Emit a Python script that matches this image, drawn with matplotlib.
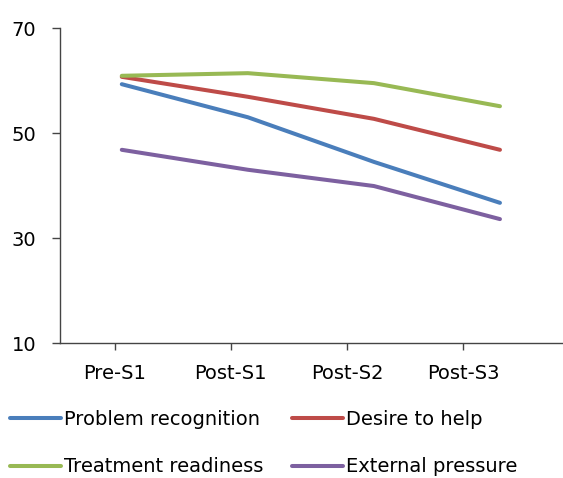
import numpy as np
import matplotlib
matplotlib.use('Agg')
import matplotlib.pyplot as plt

stages = ['Pre-S1', 'Post-S1', 'Post-S2', 'Post-S3']
problem_recognition = [59.3, 53.0, 44.5, 36.7]
desire_to_help = [60.7, 56.9, 52.7, 46.8]
treatment_readiness = [60.9, 61.4, 59.5, 55.1]
external_pressure = [46.8, 43.0, 39.9, 33.6]

series = [
    ('Problem recognition', problem_recognition, '#4A7EBB'),
    ('Desire to help', desire_to_help, '#BE4B48'),
    ('Treatment readiness', treatment_readiness, '#98B954'),
    ('External pressure', external_pressure, '#7D60A0'),
]

plt.rcParams['font.family'] = ['DejaVu Sans']

fig = plt.figure(figsize=(5.63, 4.78), dpi=100)
ax = fig.add_axes([0.1066, 0.2824, 0.8934, 0.659])

x = np.arange(len(stages))
lines = {}
for name, vals, col in series:
    ln, = ax.plot(x, vals, color=col, lw=2.9, solid_capstyle='round')
    lines[name] = ln

ax.set_xlim(-0.49, 3.5)
ax.set_ylim(10, 70)
ax.set_yticks([10, 30, 50, 70])

# category labels sit slightly left of the data points
ax.set_xticks([-0.056, 0.865, 1.79, 2.71])
ax.set_xticklabels(stages)

for s in ['top', 'right']:
    ax.spines[s].set_visible(False)
for s in ['left', 'bottom']:
    ax.spines[s].set_color('#444444')
    ax.spines[s].set_linewidth(1.0)

ax.tick_params(axis='y', length=6, width=1, color='#444444', pad=11, labelsize=14)
ax.tick_params(axis='x', length=5, width=1, color='#444444', pad=10, labelsize=14)

order = ['Problem recognition', 'Treatment readiness', 'Desire to help', 'External pressure']
fig.legend([lines[n] for n in order], order, loc='upper left',
           bbox_to_anchor=(0.018, 0.142), ncol=2, frameon=False, fontsize=14,
           handlelength=2.6, handletextpad=0.15, columnspacing=1.5,
           labelspacing=1.45, borderaxespad=0, borderpad=0)

fig.savefig('out.png', dpi=100)
